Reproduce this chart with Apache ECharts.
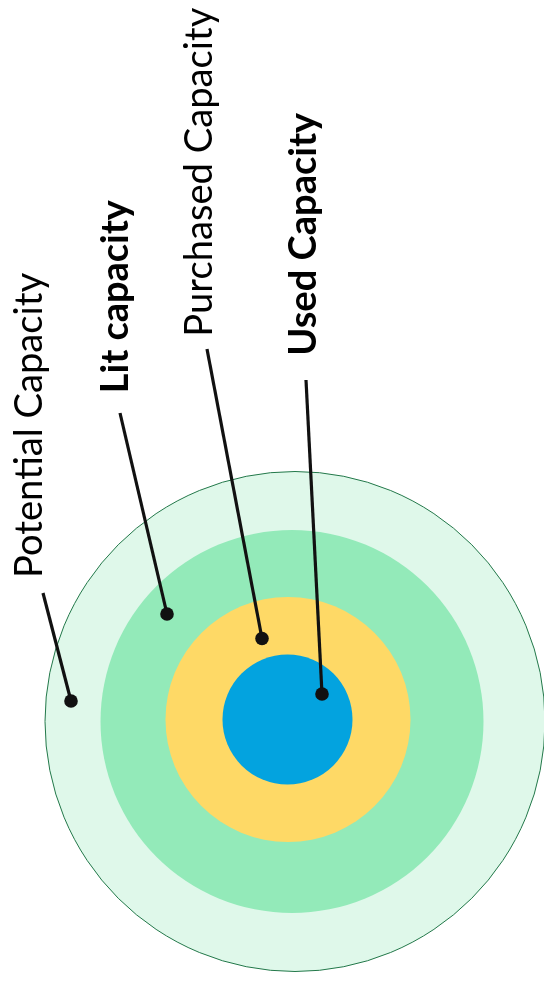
<!DOCTYPE html>
<html>
<head>
<meta charset="utf-8">
<script src="https://cdn.jsdelivr.net/npm/echarts@6/dist/echarts.min.js"></script>
<style>
  html, body { margin: 0; padding: 0; background: #fff; }
  #main { width: 544px; height: 982px; }
</style>
</head>
<body>
<div id="main"></div>
<script>
// capacity levels, outermost first (relative size, potential = 100)
var ringNames = ['Potential Capacity', 'Lit capacity', 'Purchased Capacity', 'Used Capacity'];
var ringValues = [100, 76.6, 49, 26];
var labelBold = [false, true, false, true];

var ringColors = ['#dff8ea', '#93eab9', '#fed966', '#03a3df'];
// each ring is drawn a few px apart, like the source drawing
var ringCenters = [[295, 721.5], [292, 721.5], [288, 719.5], [287.5, 719.5]];

// callout layout: text centre (x,y), text length, line start, dot
var callouts = [
    { tx: 30,  ty: 425.4, len: 305, from: [43, 593],  dot: [71, 701] },
    { tx: 116, ty: 296.7, len: 193, from: [120, 413], dot: [167, 614] },
    { tx: 200, ty: 172.2, len: 329, from: [207, 349], dot: [262, 638.5] },
    { tx: 304, ty: 234.3, len: 243, from: [306, 380], dot: [322, 694] }
];
var fontFamily = 'Lato, "Open Sans", sans-serif';
var fontSize = 38;

var dom = document.getElementById('main');
var myChart = echarts.init(dom);

function textWidth(str, bold) {
    var t = new echarts.graphic.Text({
        style: { text: str, fontSize: fontSize, fontFamily: fontFamily, fontWeight: bold ? 'bold' : 'normal' }
    });
    return t.getBoundingRect().width;
}

var polar = [], angleAxis = [], radiusAxis = [], series = [], graphic = [];
ringValues.forEach(function (v, i) {
    polar.push({ center: ringCenters[i], radius: 250 });
    angleAxis.push({
        polarIndex: i, type: 'category', data: [ringNames[i]], startAngle: 90,
        axisLine: { show: false }, axisTick: { show: false }, axisLabel: { show: false }, splitLine: { show: false }
    });
    radiusAxis.push({
        polarIndex: i, type: 'value', min: 0, max: 100,
        axisLine: { show: false }, axisTick: { show: false }, axisLabel: { show: false }, splitLine: { show: false }
    });
    series.push({
        name: ringNames[i],
        type: 'bar',
        coordinateSystem: 'polar',
        polarIndex: i,
        barWidth: '100%',
        silent: true,
        z: 2 + i,
        itemStyle: i === 0 ? { color: ringColors[i], borderColor: '#23784a', borderWidth: 1 } : { color: ringColors[i] },
        data: [v]
    });
});

ringNames.forEach(function (name, i) {
    var c = callouts[i];
    var w = textWidth(name, labelBold[i]);
    graphic.push({
        type: 'text',
        x: c.tx, y: c.ty,
        rotation: Math.PI / 2,
        scaleX: c.len / w,
        z: 100,
        style: {
            text: name, fill: '#000',
            fontSize: fontSize, fontFamily: fontFamily, fontWeight: labelBold[i] ? 'bold' : 'normal',
            align: 'center', verticalAlign: 'middle'
        }
    });
    graphic.push({
        type: 'line', z: 100,
        shape: { x1: c.from[0], y1: c.from[1], x2: c.dot[0], y2: c.dot[1] },
        style: { stroke: '#111', lineWidth: 3.2 }
    });
    graphic.push({
        type: 'circle', z: 101,
        shape: { cx: c.dot[0], cy: c.dot[1], r: 6.8 },
        style: { fill: '#111' }
    });
});

var option = {
    animation: false,
    backgroundColor: '#fff',
    polar: polar,
    angleAxis: angleAxis,
    radiusAxis: radiusAxis,
    series: series,
    graphic: graphic
};
myChart.setOption(option, true);
window.addEventListener('resize', function () {
    myChart.resize();
});
</script>
</body>
</html>
